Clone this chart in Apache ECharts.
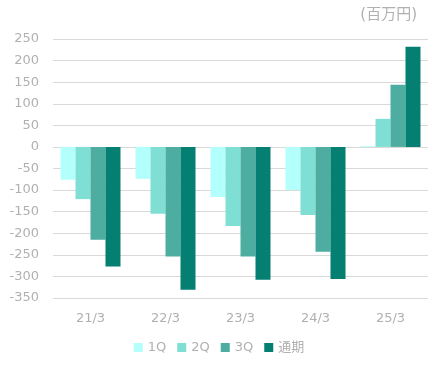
<!DOCTYPE html>
<html>
<head>
<meta charset="utf-8">
<script src="https://cdn.jsdelivr.net/npm/echarts@6/dist/echarts.min.js"></script>
<style>
html,body{margin:0;padding:0;background:#fff;}
#chart{width:438px;height:373px;}
</style>
</head>
<body>
<div id="chart"></div>
<script>
var categories = ['21/3', '22/3', '23/3', '24/3', '25/3'];
var seriesNames = ['1Q', '2Q', '3Q', '通期'];
var q1 = [-76, -74, -116, -100, 2];
var q2 = [-121, -155, -183, -158, 65];
var q3 = [-215, -254, -254, -243, 144];
var full = [-277, -331, -308, -306, 232];
var yTicks = [-350, 250, 50];
var unitLabel = '(百万円)';
var colors = ['#b3fffb', '#80dfd4', '#4dada0', '#047f72'];

var font = 'Verdana, "DejaVu Sans", "Noto Sans CJK JP", sans-serif';
var textColor = '#b0b0b0';
var chart = echarts.init(document.getElementById('chart'));
var values = [q1, q2, q3, full];
chart.setOption({
  animation: false,
  color: colors,
  title: {
    text: unitLabel,
    right: 16,
    top: 3,
    textStyle: {color: textColor, fontSize: 15, fontWeight: 'normal', fontFamily: font}
  },
  legend: {
    data: seriesNames,
    bottom: 14,
    left: 'center',
    itemWidth: 9,
    itemHeight: 9,
    itemGap: 11,
    icon: 'rect',
    textStyle: {color: textColor, fontSize: 13, fontFamily: font}
  },
  grid: {left: 53, right: 10, top: 39, bottom: 75},
  xAxis: {
    type: 'category',
    data: categories,
    axisLine: {show: false},
    axisTick: {show: false},
    axisLabel: {color: textColor, fontSize: 13, fontFamily: font, margin: 14}
  },
  yAxis: {
    type: 'value',
    min: yTicks[0],
    max: yTicks[1],
    interval: yTicks[2],
    axisLine: {show: false},
    axisTick: {show: false},
    splitLine: {lineStyle: {color: '#d9d9d9', width: 1}},
    axisLabel: {color: textColor, fontSize: 13, fontFamily: font, margin: 14}
  },
  series: seriesNames.map(function (n, i) {
    return {
      name: n,
      type: 'bar',
      data: values[i],
      barGap: '0%',
      barCategoryGap: '20%'
    };
  })
});
</script>
</body>
</html>
